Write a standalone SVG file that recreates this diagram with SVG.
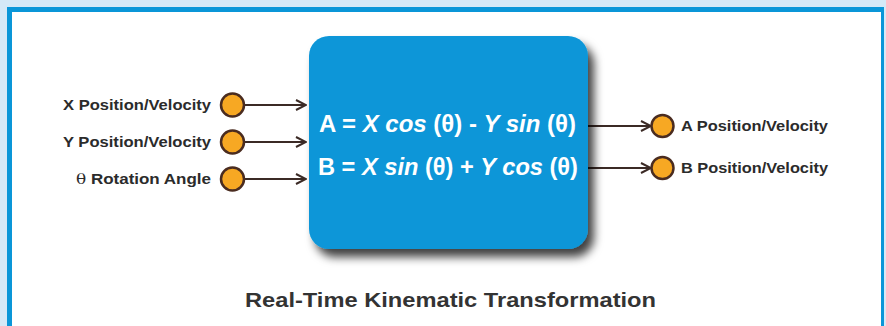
<svg xmlns="http://www.w3.org/2000/svg" width="886" height="326" viewBox="0 0 886 326">
<style>
.port{fill:#f7a823;stroke:#4a2c20;stroke-width:2.5}
.wire{stroke:#3b2a25;stroke-width:2;fill:none}
.lbl{font-family:"Liberation Sans",Arial,sans-serif;font-weight:bold;font-size:15px;fill:#2b2b2b}
.eq{font-family:"Liberation Sans",Arial,sans-serif;font-weight:bold;font-size:23px;fill:#ffffff}
.it{font-style:italic}
.title{font-family:"Liberation Sans",Arial,sans-serif;font-weight:bold;font-size:21px;fill:#333333}
</style>
<defs>
<marker id="arr" viewBox="0 0 12 12" refX="11" refY="6" markerWidth="12" markerHeight="12" markerUnits="userSpaceOnUse" orient="auto">
<path d="M1,1 L11,6 L1,11" fill="none" stroke="#3b2a25" stroke-width="2"/>
</marker>
<filter id="sh" x="-10%" y="-10%" width="130%" height="130%">
<feDropShadow dx="6" dy="8" stdDeviation="5" flood-color="#000" flood-opacity="0.75"/>
</filter>
</defs>
<rect x="0" y="0" width="886" height="326" fill="#d5e9f7"/>
<rect x="7" y="7" width="877" height="330" fill="#0a96d8"/>
<rect x="12" y="12" width="869" height="330" fill="#ffffff"/>

<g id="connectors">
<line class="wire" x1="245" y1="105" x2="306" y2="105" marker-end="url(#arr)"/>
<line class="wire" x1="245" y1="142" x2="306" y2="142" marker-end="url(#arr)"/>
<line class="wire" x1="245" y1="179" x2="306" y2="179" marker-end="url(#arr)"/>
<line class="wire" x1="588" y1="126" x2="651" y2="126" marker-end="url(#arr)"/>
<line class="wire" x1="588" y1="168" x2="651" y2="168" marker-end="url(#arr)"/>
</g>

<g id="in-x">
<circle class="port" cx="232.5" cy="105" r="11.5"/>
<text class="lbl" x="63" y="110" textLength="148" lengthAdjust="spacingAndGlyphs">X Position/Velocity</text>
</g>
<g id="in-y">
<circle class="port" cx="232.5" cy="142" r="11.5"/>
<text class="lbl" x="63" y="147" textLength="148" lengthAdjust="spacingAndGlyphs">Y Position/Velocity</text>
</g>
<g id="in-theta">
<circle class="port" cx="232.5" cy="179" r="11.5"/>
<text class="lbl" x="76" y="184" textLength="135" lengthAdjust="spacingAndGlyphs"><tspan style="font-weight:normal;font-family:'DejaVu Serif',serif">θ</tspan> Rotation Angle</text>
</g>

<g id="transform">
<rect x="309" y="36" width="279" height="213" rx="20" ry="20" fill="#0b96d8" filter="url(#sh)"/>
<text class="eq" x="319" y="132" textLength="257" lengthAdjust="spacingAndGlyphs">A = <tspan class="it">X cos</tspan> (θ) - <tspan class="it">Y sin</tspan> (θ)</text>
<text class="eq" x="318" y="175" textLength="260" lengthAdjust="spacingAndGlyphs">B = <tspan class="it">X sin</tspan> (θ) + <tspan class="it">Y cos</tspan> (θ)</text>
</g>

<g id="out-a">
<circle class="port" cx="662.5" cy="126" r="11"/>
<text class="lbl" x="681" y="131" textLength="147" lengthAdjust="spacingAndGlyphs">A Position/Velocity</text>
</g>
<g id="out-b">
<circle class="port" cx="662.5" cy="168" r="11"/>
<text class="lbl" x="681" y="173" textLength="147" lengthAdjust="spacingAndGlyphs">B Position/Velocity</text>
</g>

<text class="title" x="245" y="307" textLength="411" lengthAdjust="spacingAndGlyphs">Real-Time Kinematic Transformation</text>
</svg>
